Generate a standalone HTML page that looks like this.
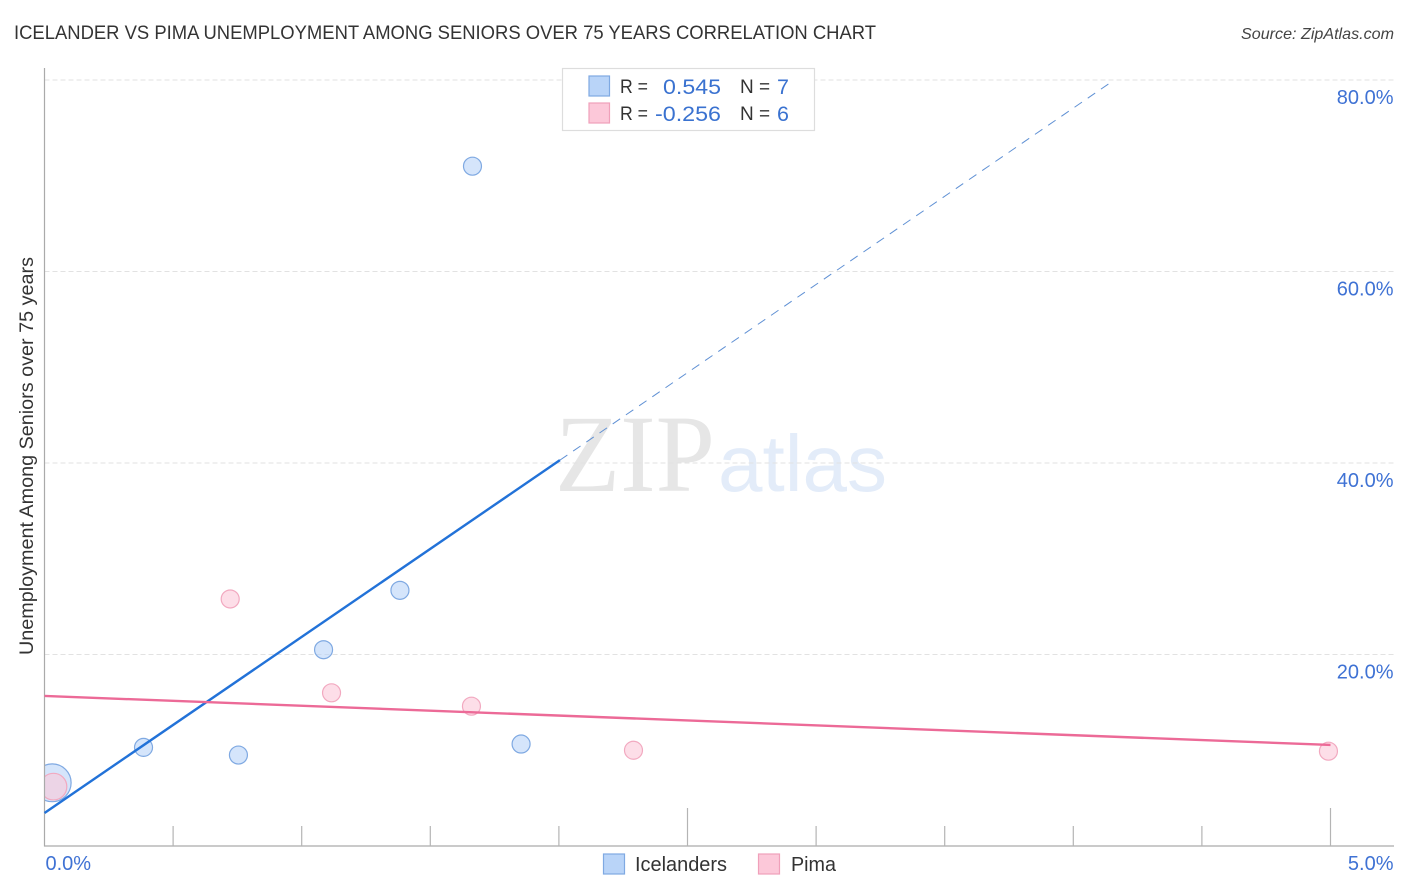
<!DOCTYPE html>
<html lang="en">
<head>
<meta charset="utf-8">
<title>Icelander vs Pima Unemployment Among Seniors over 75 Years Correlation Chart</title>
<style>
html,body{margin:0;padding:0;background:#fff;}
body{width:1406px;height:892px;overflow:hidden;}
svg{display:block;font-family:"Liberation Sans",sans-serif;}
</style>
</head>
<body>
<svg id="chart" width="1406" height="892" viewBox="0 0 1406 892" xmlns="http://www.w3.org/2000/svg">
  <rect x="0" y="0" width="1406" height="892" fill="#ffffff"/>
  <text x="14" y="39" font-size="19.5" fill="#333333" textLength="862" lengthAdjust="spacingAndGlyphs">ICELANDER VS PIMA UNEMPLOYMENT AMONG SENIORS OVER 75 YEARS CORRELATION CHART</text>
  <text x="1394" y="39" font-size="16.1" font-style="italic" fill="#444444" text-anchor="end">Source: ZipAtlas.com</text>

  <g>
    <text x="555" y="491" font-family="'Liberation Serif',serif" font-size="110" fill="#e6e6e6" textLength="160" lengthAdjust="spacingAndGlyphs">ZIP</text>
    <text x="718" y="491" font-size="80" fill="#e3ecf9" textLength="169" lengthAdjust="spacingAndGlyphs">atlas</text>
  </g>

  <g id="grid"></g>
  <g id="points"></g>
  <rect x="0" y="60" width="44.5" height="786" fill="#ffffff"/>
  <g id="axes"></g>
  <g id="trends"></g>
  <g id="labels"></g>

  <text transform="translate(33,456) rotate(-90)" font-size="19" fill="#333333" text-anchor="middle" textLength="398" lengthAdjust="spacingAndGlyphs">Unemployment Among Seniors over 75 years</text>

  <g>
    <rect x="562.5" y="68.5" width="252" height="62" fill="#ffffff" stroke="#dddddd" stroke-width="1.2"/>
    <rect x="589" y="76" width="20.5" height="20" fill="#b9d4f8" stroke="#7fa9e2" stroke-width="1.2"/>
    <rect x="589" y="103" width="20.5" height="20" fill="#fcc8d9" stroke="#f0a0ba" stroke-width="1.2"/>
    <text x="620" y="93" font-size="19" fill="#333333" textLength="28" lengthAdjust="spacingAndGlyphs">R =</text>
    <text x="663" y="94" font-size="21.5" fill="#3a72d0" textLength="58" lengthAdjust="spacingAndGlyphs">0.545</text>
    <text x="740" y="93" font-size="19" fill="#333333">N =</text>
    <text x="777" y="94" font-size="21.5" fill="#3a72d0">7</text>
    <text x="620" y="120" font-size="19" fill="#333333" textLength="28" lengthAdjust="spacingAndGlyphs">R =</text>
    <text x="655" y="121" font-size="21.5" fill="#3a72d0" textLength="66" lengthAdjust="spacingAndGlyphs">-0.256</text>
    <text x="740" y="120" font-size="19" fill="#333333">N =</text>
    <text x="777" y="121" font-size="21.5" fill="#3a72d0">6</text>
  </g>

  <g>
    <g>
      <rect x="603.5" y="854" width="21" height="20" fill="#b9d4f8" stroke="#7fa9e2" stroke-width="1.2"/>
      <text x="635" y="871" font-size="20" fill="#333333" textLength="92" lengthAdjust="spacingAndGlyphs">Icelanders</text>
    </g>
    <g>
      <rect x="758.5" y="854" width="21" height="20" fill="#fcc8d9" stroke="#f0a0ba" stroke-width="1.2"/>
      <text x="791" y="871" font-size="20" fill="#333333" textLength="45" lengthAdjust="spacingAndGlyphs">Pima</text>
    </g>
  </g>
</svg>
<script>
// Chart data (x and y in percent; size is bubble radius weight)
const icelanderX = [1.664, 1.382, 1.085, 0.385, 0.754, 1.853, 0.03];
const icelanderY = [71.0, 26.7, 20.5, 10.3, 9.5, 10.65, 6.6];
const icelanderSize = [1, 1, 1, 1, 1, 1, 2.1];
const pimaX = [0.722, 1.116, 1.66, 2.29, 4.992, 0.035];
const pimaY = [25.8, 16.0, 14.6, 10.0, 9.9, 6.2];
const pimaSize = [1, 1, 1, 1, 1, 1.48];
const icelanderTrendX = [0, 2.004, 4.143];
const icelanderTrendY = [3.45, 40.3, 79.7];
const pimaTrendX = [0, 5];
const pimaTrendY = [15.67, 10.55];
const yTicks = [20, 40, 60, 80];
const yTickLabels = ['20.0%', '40.0%', '60.0%', '80.0%'];
const xTicks = [0.5, 1, 1.5, 2, 2.5, 3, 3.5, 4, 4.5, 5];
const xMajorTicks = [2.5, 5];
const xEndLabels = ['0.0%', '5.0%'];

const SVGNS = 'http://www.w3.org/2000/svg';
const xScale = v => 44.5 + v * 257.2;
const yScale = v => 846 - v * 9.575;
const baseRadius = 9;

function make(parent, tag, attrs) {
  const el = document.createElementNS(SVGNS, tag);
  for (const k in attrs) el.setAttribute(k, attrs[k]);
  parent.appendChild(el);
  return el;
}

const grid = document.getElementById('grid');
const axes = document.getElementById('axes');
const trends = document.getElementById('trends');
const points = document.getElementById('points');
const labels = document.getElementById('labels');

yTicks.forEach((t, i) => {
  const line = make(grid, 'line', {x1: 44.5, x2: 1394, y1: yScale(t), y2: yScale(t), stroke: '#e2e2e2', 'stroke-width': 1, 'stroke-dasharray': '5 3'});
  
  
  const label = make(labels, 'text', {x: 1393.5, y: yScale(t) + 24, 'font-size': 20, fill: '#3f72d4', 'text-anchor': 'end'});
  label.textContent = yTickLabels[i];
  
  
});

const yAxis = make(axes, 'line', {x1: 44.5, x2: 44.5, y1: 68, y2: 846.5, stroke: '#aaaaaa', 'stroke-width': 1.2});


const xAxis = make(axes, 'line', {x1: 44, x2: 1394, y1: 846, y2: 846, stroke: '#aaaaaa', 'stroke-width': 1.2});



xTicks.forEach(t => {
  const top = xMajorTicks.includes(t) ? 808 : 826;
  const tick = make(axes, 'line', {x1: xScale(t), x2: xScale(t), y1: top, y2: 846, stroke: '#b4b4b4', 'stroke-width': 1.2});
  
  
});

const xLabelLeft = make(labels, 'text', {x: 45.5, y: 870, 'font-size': 20, fill: '#3f72d4'});
xLabelLeft.textContent = xEndLabels[0];


const xLabelRight = make(labels, 'text', {x: 1393.5, y: 870, 'font-size': 20, fill: '#3f72d4', 'text-anchor': 'end'});
xLabelRight.textContent = xEndLabels[1];



icelanderX.forEach((v, i) => {
  const c = make(points, 'circle', {cx: xScale(v), cy: yScale(icelanderY[i]), r: baseRadius * icelanderSize[i], fill: '#b9d4f8', 'fill-opacity': 0.6, stroke: '#7fa9e2', 'stroke-width': 1.2});
  
  
});
pimaX.forEach((v, i) => {
  const c = make(points, 'circle', {cx: xScale(v), cy: yScale(pimaY[i]), r: baseRadius * pimaSize[i], fill: '#fcc8d9', 'fill-opacity': 0.6, stroke: '#f2a9c0', 'stroke-width': 1.2});
  
  
});

const blueSolid = make(trends, 'line', {x1: xScale(icelanderTrendX[0]), y1: yScale(icelanderTrendY[0]), x2: xScale(icelanderTrendX[1]), y2: yScale(icelanderTrendY[1]), stroke: '#2272d8', 'stroke-width': 2.4});


const blueDash = make(trends, 'line', {x1: xScale(icelanderTrendX[1]), y1: yScale(icelanderTrendY[1]), x2: xScale(icelanderTrendX[2]), y2: yScale(icelanderTrendY[2]), stroke: '#5f90d4', 'stroke-width': 1, 'stroke-dasharray': '9 7'});


const pinkLine = make(trends, 'line', {x1: xScale(pimaTrendX[0]), y1: yScale(pimaTrendY[0]), x2: xScale(pimaTrendX[1]), y2: yScale(pimaTrendY[1]), stroke: '#ec6a97', 'stroke-width': 2.4});


</script>
</body>
</html>
